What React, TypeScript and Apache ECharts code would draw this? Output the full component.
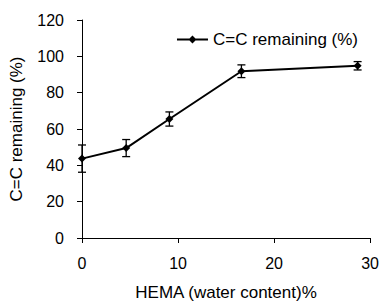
import React, { useEffect, useRef } from "react";
import * as echarts from "echarts";

const hemaContent = [0, 4.6, 9.1, 16.6, 28.7];
const ccRemaining = [43.7, 49.5, 65.5, 91.8, 94.8];
const ccError = [7.5, 4.7, 3.9, 3.5, 2.3];
const seriesName = "C=C remaining (%)";
const xAxisName = "HEMA (water content)%";
const yAxisName = "C=C remaining (%)";

const FONT = "'Liberation Sans', Arial, sans-serif";

export default function App() {
  const ref = useRef<HTMLDivElement>(null);
  useEffect(() => {
    if (!ref.current) return;
    const chart = echarts.init(ref.current, undefined, { renderer: "svg" });
    const lineData = hemaContent.map((x, i) => [x, ccRemaining[i]]);
    const errData = hemaContent.map((x, i) => [x, ccRemaining[i] - ccError[i], ccRemaining[i] + ccError[i]]);
    chart.setOption({
      animation: false,
      backgroundColor: "#ffffff",
      textStyle: { fontFamily: FONT, color: "#000" },
      grid: { left: 82, right: 11, top: 20, bottom: 62, containLabel: false },
      legend: {
        data: [seriesName],
        right: 19,
        top: 26,
        itemWidth: 31,
        itemHeight: 10,
        itemGap: 0,
        textStyle: { fontFamily: FONT, fontSize: 17, color: "#000" },
        icon: "path://M0,4.1 H12.5 L15.5,1 L18.5,4.1 H31 V5.9 H18.5 L15.5,9 L12.5,5.9 H0 Z",
      },
      xAxis: {
        type: "value",
        min: 0,
        max: 30,
        interval: 10,
        name: xAxisName,
        nameLocation: "middle",
        nameGap: 46,
        nameTextStyle: { fontFamily: FONT, fontSize: 17, color: "#000" },
        axisLine: { show: true, onZero: false, lineStyle: { color: "#000", width: 1 } },
        axisTick: { show: true, length: 5, lineStyle: { color: "#000" } },
        axisLabel: { fontFamily: FONT, fontSize: 16, color: "#000", margin: 17 },
        splitLine: { show: false },
      },
      yAxis: {
        type: "value",
        min: 0,
        max: 120,
        interval: 20,
        name: yAxisName,
        nameLocation: "middle",
        nameGap: 57,
        nameTextStyle: { fontFamily: FONT, fontSize: 17, color: "#000" },
        axisLine: { show: true, onZero: false, lineStyle: { color: "#000", width: 1 } },
        axisTick: { show: true, length: 5, lineStyle: { color: "#000" } },
        axisLabel: { fontFamily: FONT, fontSize: 16, color: "#000", margin: 18 },
        splitLine: { show: false },
      },
      series: [
        {
          name: seriesName,
          type: "line",
          data: lineData,
          symbol: "diamond",
          symbolSize: 8,
          lineStyle: { color: "#000", width: 2 },
          itemStyle: { color: "#000" },
          z: 3,
        },
        {
          name: "error",
          type: "custom",
          data: errData,
          z: 2,
          renderItem: (params: any, api: any) => {
            const x = api.value(0);
            const lo = api.coord([x, api.value(1)]);
            const hi = api.coord([x, api.value(2)]);
            const hw = 4;
            const style = { stroke: "#000", lineWidth: 1.3 };
            return {
              type: "group",
              children: [
                { type: "line", shape: { x1: lo[0], y1: lo[1], x2: hi[0], y2: hi[1] }, style },
                { type: "line", shape: { x1: lo[0] - hw, y1: lo[1], x2: lo[0] + hw, y2: lo[1] }, style },
                { type: "line", shape: { x1: hi[0] - hw, y1: hi[1], x2: hi[0] + hw, y2: hi[1] }, style },
              ],
            };
          },
        },
      ],
    });
    return () => chart.dispose();
  }, []);
  return (
    <div
      ref={ref}
      style={{ position: "fixed", left: 0, top: 0, width: 382, height: 306, background: "#fff" }}
    />
  );
}
